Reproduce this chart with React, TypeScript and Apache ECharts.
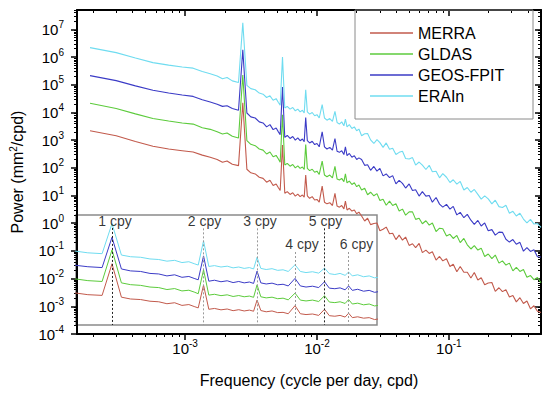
import React, { useEffect, useRef } from 'react';
import * as echarts from 'echarts';

// Frequency (cycle per day, cpd)
const FREQ = [
  1.9e-4, 3.0e-4, 4.2e-4, 5.7e-4, 7.5e-4, 9.5e-4, 1.15e-3, 1.35e-3, 1.55e-3, 1.75e-3,
  1.92e-3, 2.08e-3, 2.28e-3, 2.54e-3, 2.738e-3, 2.94e-3, 3.15e-3, 3.4e-3, 3.65e-3, 3.9e-3,
  4.15e-3, 4.4e-3, 4.65e-3, 4.9e-3, 5.1e-3, 5.26e-3, 5.476e-3, 5.7e-3, 5.95e-3, 6.25e-3,
  6.55e-3, 6.85e-3, 7.15e-3, 7.45e-3, 7.75e-3, 8.0e-3, 8.214e-3, 8.45e-3, 8.8e-3, 9.2e-3,
  9.6e-3, 1.0e-2, 1.04e-2, 1.095e-2, 1.14e-2, 1.19e-2, 1.25e-2, 1.31e-2, 1.369e-2, 1.42e-2,
  1.48e-2, 1.54e-2, 1.6e-2, 1.643e-2, 1.69e-2, 1.76e-2, 1.84e-2, 1.92e-2, 2.0e-2, 2.08e-2,
  2.18e-2, 2.3e-2, 2.42e-2, 2.55e-2, 2.7e-2, 2.85e-2, 3.0e-2, 3.17e-2, 3.35e-2, 3.55e-2,
  3.75e-2, 3.97e-2, 4.2e-2, 4.45e-2, 4.7e-2, 5.0e-2, 5.3e-2, 5.6e-2, 5.95e-2, 6.3e-2,
  6.7e-2, 7.1e-2, 7.5e-2, 8.0e-2, 8.5e-2, 9.0e-2, 9.6e-2, 0.102, 0.108, 0.115,
  0.122, 0.13, 0.138, 0.147, 0.156, 0.166, 0.176, 0.187, 0.199, 0.212,
  0.225, 0.24, 0.255, 0.271, 0.288, 0.306, 0.325, 0.346, 0.368, 0.391,
  0.416, 0.442, 0.47, 0.5,
];

// log10 of power (mm^2/cpd)
const MERRA = [
  3.34, 3.16, 2.95, 2.78, 2.68, 2.62, 2.57, 2.46, 2.38, 2.30,
  2.20, 2.25, 2.13, 2.08, 4.35, 1.95, 1.82, 1.78, 1.66, 1.62,
  1.48, 1.55, 1.36, 1.42, 1.28, 1.18, 2.82, 1.08, 1.14, 1.04,
  1.10, 0.98, 1.05, 0.96, 1.02, 0.94, 1.74, 0.99, 0.90, 0.96,
  0.84, 0.86, 0.76, 1.34, 0.76, 0.70, 0.74, 0.64, 1.08, 0.62,
  0.58, 0.64, 0.52, 0.80, 0.48, 0.54, 0.44, 0.48, 0.34, 0.40,
  0.26, 0.08, 0.18, -0.05, -0.01, 0.01, -0.27, -0.22, -0.14, -0.38,
  -0.36, -0.59, -0.43, -0.61, -0.50, -0.80, -0.74, -0.88, -0.73, -1.06,
  -0.97, -1.09, -1.03, -1.33, -1.20, -1.36, -1.28, -1.56, -1.48, -1.75,
  -1.56, -1.77, -1.77, -1.98, -1.78, -2.05, -1.97, -2.22, -2.16, -2.14,
  -2.46, -2.33, -2.47, -2.40, -2.66, -2.61, -2.84, -2.69, -2.90, -2.81,
  -3.09, -2.98, -3.18, -3.22,
];
const GLDAS = [
  4.33, 4.14, 3.95, 3.78, 3.69, 3.62, 3.58, 3.45, 3.39, 3.30,
  3.22, 3.26, 3.14, 3.08, 5.35, 2.98, 2.85, 2.80, 2.68, 2.64,
  2.50, 2.57, 2.40, 2.45, 2.32, 2.20, 3.92, 2.10, 2.16, 2.06,
  2.12, 2.00, 2.07, 1.98, 2.03, 1.94, 2.84, 1.98, 1.90, 1.95,
  1.84, 1.88, 1.76, 2.24, 1.74, 1.68, 1.74, 1.64, 2.05, 1.60,
  1.56, 1.62, 1.50, 1.78, 1.46, 1.52, 1.40, 1.46, 1.32, 1.38,
  1.20, 1.26, 1.03, 1.12, 0.99, 1.07, 0.82, 0.87, 0.65, 0.80,
  0.64, 0.70, 0.44, 0.51, 0.29, 0.41, 0.41, 0.14, 0.18, -0.02,
  0.09, -0.07, 0.01, -0.30, -0.18, -0.20, -0.46, -0.40, -0.55, -0.44,
  -0.70, -0.55, -0.78, -0.93, -0.81, -0.97, -0.90, -1.20, -1.11, -1.28,
  -1.15, -1.44, -1.36, -1.51, -1.44, -1.72, -1.59, -1.74, -1.67, -1.95,
  -1.89, -2.04, -1.96, -2.15,
];
const GEOS_FPIT = [
  5.33, 5.15, 4.96, 4.80, 4.70, 4.63, 4.58, 4.46, 4.38, 4.30,
  4.22, 4.24, 4.14, 4.08, 6.26, 3.98, 3.84, 3.80, 3.66, 3.62,
  3.48, 3.56, 3.38, 3.44, 3.30, 3.20, 4.92, 3.10, 3.17, 3.06,
  3.13, 3.00, 3.08, 2.98, 3.04, 2.94, 3.82, 2.98, 2.90, 2.96,
  2.84, 2.88, 2.76, 3.30, 2.76, 2.68, 2.74, 2.64, 3.06, 2.60,
  2.56, 2.62, 2.48, 2.76, 2.44, 2.52, 2.38, 2.44, 2.30, 2.36,
  2.30, 2.09, 2.11, 1.91, 2.05, 1.88, 1.98, 1.71, 1.78, 1.65,
  1.72, 1.42, 1.55, 1.44, 1.27, 1.42, 1.18, 1.21, 0.98, 1.14,
  0.98, 1.00, 0.76, 0.93, 0.69, 0.58, 0.68, 0.51, 0.61, 0.30,
  0.39, 0.20, 0.32, 0.11, -0.04, 0.10, -0.10, 0.01, -0.27, -0.23,
  -0.43, -0.32, -0.33, -0.58, -0.68, -0.59, -0.76, -0.69, -1.01, -0.88,
  -1.02, -0.96, -1.21, -1.22,
];
const ERAIN = [
  6.34, 6.16, 5.97, 5.80, 5.71, 5.64, 5.60, 5.48, 5.40, 5.32,
  5.22, 5.26, 5.14, 5.08, 7.24, 4.98, 4.86, 4.82, 4.70, 4.66,
  4.54, 4.60, 4.44, 4.50, 4.36, 4.26, 6.00, 4.16, 4.22, 4.12,
  4.18, 4.06, 4.12, 4.02, 4.08, 3.98, 4.82, 4.02, 3.94, 4.00,
  3.88, 3.92, 3.80, 4.28, 3.80, 3.72, 3.78, 3.68, 4.04, 3.64,
  3.58, 3.66, 3.52, 3.76, 3.48, 3.56, 3.42, 3.48, 3.34, 3.40,
  3.16, 3.23, 3.24, 3.01, 2.88, 3.02, 2.91, 2.74, 2.90, 2.67,
  2.71, 2.48, 2.56, 2.60, 2.34, 2.32, 2.37, 2.10, 2.21, 2.10,
  1.94, 2.09, 1.86, 1.88, 1.64, 1.79, 1.66, 1.47, 1.57, 1.41,
  1.51, 1.20, 1.29, 1.12, 1.22, 1.04, 0.87, 0.99, 0.88, 0.70,
  0.83, 0.60, 0.57, 0.65, 0.36, 0.43, 0.26, 0.36, 0.15, 0.01,
  0.14, -0.03, -0.01, -0.15,
];

const SERIES_NAMES = ['MERRA', 'GLDAS', 'GEOS-FPIT', 'ERAIn'];
const SERIES_VALUES = [MERRA, GLDAS, GEOS_FPIT, ERAIN];
const COLORS = ['#c25a4c', '#5ccb3c', '#3b3bc6', '#6fdcf0'];

const X_MAJOR_EXP = [-3, -2, -1];
const Y_MAJOR_EXP = [-4, -3, -2, -1, 0, 1, 2, 3, 4, 5, 6, 7];

// cycles per year marked in the inset
const CPY = [1, 2, 3, 4, 5, 6];
const CPY_LABELS = ['1 cpy', '2 cpy', '3 cpy', '4 cpy', '5 cpy', '6 cpy'];
const CPY_LINE_COLORS = ['#222', '#999', '#999', '#999', '#222', '#999'];
const DAYS_PER_YEAR = 365.25;

const X_MIN = -3.82;
const X_MAX = Math.log10(0.5);
const Y_MIN = -4;
const Y_MAX = 7.7;

const IN_X_MIN = -2.681;
const IN_X_MAX = -1.691;
const IN_Y_MIN = -0.05;
const IN_Y_MAX = 7.86;

const FONT = 'Liberation Sans, Arial, Helvetica, sans-serif';

function minorTicks(lo: number, hi: number): number[] {
  const out: number[] = [];
  for (let k = Math.floor(lo); k <= Math.ceil(hi); k++) {
    for (let m = 2; m <= 9; m++) {
      const v = k + Math.log10(m);
      if (v > lo && v < hi) out.push(v);
    }
  }
  return out;
}

export default function App() {
  const ref = useRef<HTMLDivElement>(null);

  useEffect(() => {
    if (!ref.current) return;
    const chart = echarts.init(ref.current, undefined, { renderer: 'svg' });

    const rich = {
      b: { fontSize: 15, fontFamily: FONT, color: '#000' },
      s: { fontSize: 10, fontFamily: FONT, color: '#000', padding: [0, 0, 10, 0] },
    };
    const fmt = (v: number) => `{b|10}{s|${Math.round(v)}}`;
    const axisLine = { show: true, onZero: false, lineStyle: { color: '#000', width: 2 } };
    const xMinor = minorTicks(X_MIN, X_MAX);
    const yMinor = minorTicks(Y_MIN, Y_MAX);

    const mkAxis = (extra: any) => ({
      type: 'value',
      gridIndex: 0,
      splitLine: { show: false },
      axisLabel: { show: false },
      axisLine: { show: false, onZero: false },
      ...extra,
    });

    const xAxes = [
      mkAxis({
        position: 'bottom', min: X_MIN, max: X_MAX, axisLine,
        axisTick: { show: true, customValues: X_MAJOR_EXP, length: 6, lineStyle: { color: '#000', width: 1.5 } },
        axisLabel: { show: true, customValues: X_MAJOR_EXP, formatter: fmt, rich, margin: 4 },
        name: 'Frequency (cycle per day, cpd)', nameLocation: 'middle', nameGap: 38,
        nameTextStyle: { fontSize: 16, fontFamily: FONT, color: '#000' },
      }),
      mkAxis({
        position: 'bottom', min: X_MIN, max: X_MAX,
        axisTick: { show: true, customValues: xMinor, length: 3, lineStyle: { color: '#000', width: 1 } },
      }),
      mkAxis({
        position: 'top', min: X_MIN, max: X_MAX, axisLine,
        axisTick: { show: true, inside: true, customValues: X_MAJOR_EXP, length: 6, lineStyle: { color: '#000', width: 1.5 } },
      }),
      mkAxis({
        position: 'top', min: X_MIN, max: X_MAX,
        axisTick: { show: true, inside: true, customValues: xMinor, length: 3, lineStyle: { color: '#000', width: 1 } },
      }),
      { type: 'value', gridIndex: 1, show: false, min: IN_X_MIN, max: IN_X_MAX },
    ];
    const yAxes = [
      mkAxis({
        position: 'left', min: Y_MIN, max: Y_MAX, axisLine,
        axisTick: { show: true, customValues: Y_MAJOR_EXP, length: 6, lineStyle: { color: '#000', width: 1.5 } },
        axisLabel: { show: true, customValues: Y_MAJOR_EXP, formatter: fmt, rich, margin: 13 },
        name: 'Power (mm{s|2}/cpd)', nameLocation: 'middle', nameGap: 50,
        nameTextStyle: {
          fontSize: 16, fontFamily: FONT, color: '#000',
          rich: { s: { fontSize: 10, fontFamily: FONT, color: '#000', padding: [0, 0, 9, 0] } },
        },
      }),
      mkAxis({
        position: 'left', min: Y_MIN, max: Y_MAX,
        axisTick: { show: true, customValues: yMinor, length: 3, lineStyle: { color: '#000', width: 1 } },
      }),
      mkAxis({
        position: 'right', min: Y_MIN, max: Y_MAX, axisLine,
        axisTick: { show: true, inside: true, customValues: Y_MAJOR_EXP, length: 6, lineStyle: { color: '#000', width: 1.5 } },
      }),
      mkAxis({
        position: 'right', min: Y_MIN, max: Y_MAX,
        axisTick: { show: true, inside: true, customValues: yMinor, length: 3, lineStyle: { color: '#000', width: 1 } },
      }),
      { type: 'value', gridIndex: 1, show: false, min: IN_Y_MIN, max: IN_Y_MAX },
    ];

    const logF = FREQ.map((f) => Math.log10(f));
    const mainSeries = SERIES_NAMES.map((name, i) => ({
      name,
      type: 'line',
      xAxisIndex: 0,
      yAxisIndex: 0,
      showSymbol: false,
      symbol: 'none',
      clip: true,
      z: 2,
      lineStyle: { color: COLORS[i], width: 1.1 },
      itemStyle: { color: COLORS[i] },
      data: logF.map((x, k) => [x, SERIES_VALUES[i][k]]),
    }));

    const insetIdx = logF.map((x, k) => k).filter((k) => logF[k] >= IN_X_MIN - 0.05 && logF[k] <= IN_X_MAX + 0.05);
    const cpyX = CPY.map((c) => Math.log10(c / DAYS_PER_YEAR));
    const lineTop = [6.93, 6.9, 6.9, 5.2, 6.9, 5.2];
    const labelY = [7.43, 7.43, 7.43, 5.78, 7.43, 5.78];
    const labelDx = [3, 1, 3, 7, 1, 8];

    const insetSeries: any[] = SERIES_NAMES.map((name, i) => ({
      name,
      type: 'line',
      xAxisIndex: 4,
      yAxisIndex: 4,
      showSymbol: false,
      symbol: 'none',
      clip: true,
      z: 3,
      lineStyle: { color: COLORS[i], width: 1 },
      itemStyle: { color: COLORS[i] },
      data: insetIdx.map((k) => [logF[k], SERIES_VALUES[i][k]]),
      ...(i === 0
        ? {
            markLine: {
              silent: true,
              symbol: 'none',
              label: { show: false },
              data: cpyX.map((x, j) => [
                { coord: [x, lineTop[j]], lineStyle: { color: CPY_LINE_COLORS[j], type: [2, 2], width: 1 } },
                { coord: [x, IN_Y_MIN] },
              ]),
            },
          }
        : {}),
    }));

    insetSeries.push({
      name: 'cpy-labels',
      type: 'scatter',
      xAxisIndex: 4,
      yAxisIndex: 4,
      symbolSize: 0,
      silent: true,
      z: 5,
      data: cpyX.map((x, j) => ({
        value: [x, labelY[j]],
        label: {
          show: true,
          position: 'inside',
          formatter: CPY_LABELS[j],
          offset: [labelDx[j], 0],
          fontSize: 14,
          fontFamily: FONT,
          color: '#000',
        },
      })),
    });

    chart.setOption({
      animation: false,
      backgroundColor: '#fff',
      grid: [
        { left: 70, top: 10, width: 471, height: 325, show: false },
        {
          left: 76, top: 215, width: 301, height: 110, show: true,
          borderColor: '#8a8a8a', borderWidth: 1.5, backgroundColor: 'transparent',
        },
      ],
      xAxis: xAxes,
      yAxis: yAxes,
      legend: {
        data: SERIES_NAMES,
        orient: 'vertical',
        left: 365,
        top: 20,
        icon: 'rect',
        itemWidth: 43,
        itemHeight: 1.5,
        itemGap: 5,
        textStyle: { fontSize: 16, fontFamily: FONT, color: '#000' },
      },
      graphic: [
        {
          type: 'rect',
          shape: { x: 355, y: 10, width: 178, height: 109 },
          style: { fill: 'none', stroke: '#8a8a8a', lineWidth: 1 },
          z: 10,
        },
      ],
      series: [...mainSeries, ...insetSeries],
    });

    return () => chart.dispose();
  }, []);

  return (
    <div
      ref={ref}
      style={{ position: 'absolute', left: 0, top: 0, width: 550, height: 393, background: '#fff' }}
    />
  );
}
